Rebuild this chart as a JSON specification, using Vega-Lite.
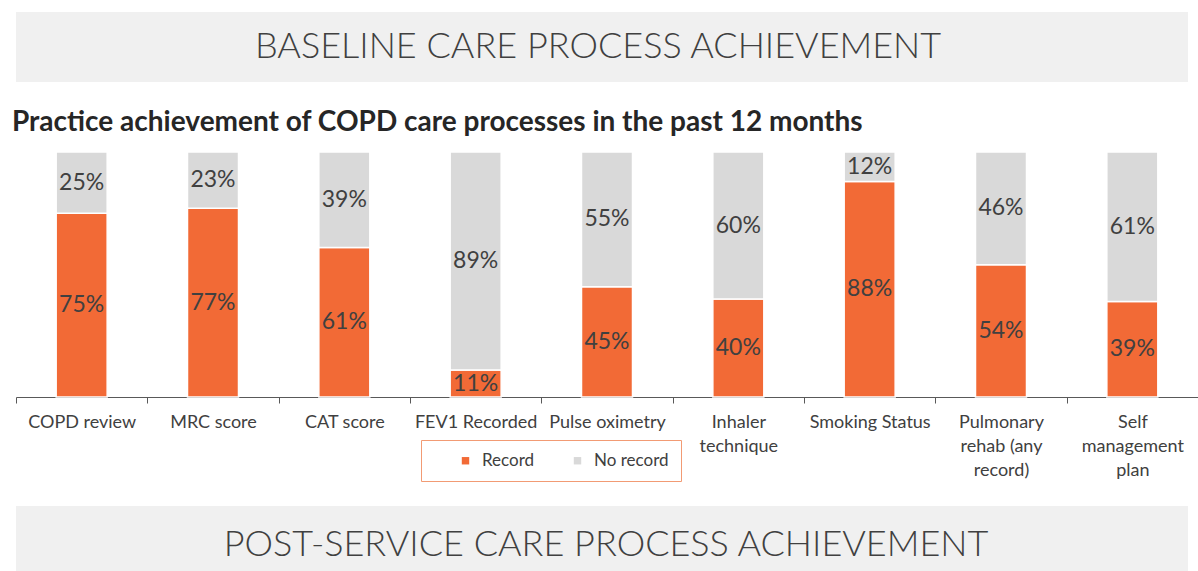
{
  "$schema": "https://vega.github.io/schema/vega-lite/v6.json",
  "padding": {"left": 8, "top": 12, "right": 0, "bottom": 0},
  "background": "white",
  "spacing": 27,
  "align": "none",
  "config": {"view": {"stroke": null}, "font": "Lato"},
  "vconcat": [
    {
      "width": 1172,
      "height": 70,
      "view": {"fill": "#F0F0F0", "stroke": null},
      "data": {"values": [{"heading": "BASELINE CARE PROCESS ACHIEVEMENT"}]},
      "mark": {"type": "text", "font": "Lato", "fontWeight": 300, "fontSize": 36, "color": "#404040", "baseline": "middle", "dx": -4},
      "encoding": {"text": {"field": "heading"}}
    },
    {
      "width": 1182,
      "height": 245,
      "title": {
        "text": "Practice achievement of COPD care processes in the past 12 months",
        "anchor": "start",
        "frame": "group",
        "font": "Lato",
        "fontSize": 28,
        "fontWeight": "bold",
        "color": "#262626",
        "baseline": "alphabetic",
        "offset": -8,
        "dx": -4
      },
      "data": {
        "values": [
          {"process": "COPD review", "status": "Record", "value": 0.75},
          {"process": "COPD review", "status": "No record", "value": 0.25},
          {"process": "MRC score", "status": "Record", "value": 0.77},
          {"process": "MRC score", "status": "No record", "value": 0.23},
          {"process": "CAT score", "status": "Record", "value": 0.61},
          {"process": "CAT score", "status": "No record", "value": 0.39},
          {"process": "FEV1 Recorded", "status": "Record", "value": 0.11},
          {"process": "FEV1 Recorded", "status": "No record", "value": 0.89},
          {"process": "Pulse oximetry", "status": "Record", "value": 0.45},
          {"process": "Pulse oximetry", "status": "No record", "value": 0.55},
          {"process": "Inhaler technique", "status": "Record", "value": 0.40},
          {"process": "Inhaler technique", "status": "No record", "value": 0.60},
          {"process": "Smoking Status", "status": "Record", "value": 0.88},
          {"process": "Smoking Status", "status": "No record", "value": 0.12},
          {"process": "Pulmonary rehab (any record)", "status": "Record", "value": 0.54},
          {"process": "Pulmonary rehab (any record)", "status": "No record", "value": 0.46},
          {"process": "Self management plan", "status": "Record", "value": 0.39},
          {"process": "Self management plan", "status": "No record", "value": 0.61}
        ]
      },
      "encoding": {
        "x": {
          "field": "process",
          "type": "nominal",
          "sort": null,
          "scale": {"paddingInner": 0, "paddingOuter": 0},
          "axis": {
            "title": null,
            "labelAngle": 0,
            "labelFont": "Lato",
            "labelFontSize": 18,
            "labelColor": "#404040",
            "labelPadding": 10,
            "labelBaseline": "top",
            "labelLineHeight": 24,
            "labelOverlap": false,
            "labelLimit": 0,
            "labelBound": false,
            "tickSize": 6,
            "tickBand": "extent",
            "tickColor": "#595959",
            "domainColor": "#595959",
            "labelExpr": "datum.value == 'Inhaler technique' ? ['Inhaler', 'technique'] : datum.value == 'Pulmonary rehab (any record)' ? ['Pulmonary', 'rehab (any', 'record)'] : datum.value == 'Self management plan' ? ['Self', 'management', 'plan'] : datum.value"
          }
        }
      },
      "layer": [
        {
          "mark": {"type": "bar", "size": 51, "stroke": "white", "strokeWidth": 1.5},
          "encoding": {
            "y": {
              "field": "value",
              "type": "quantitative",
              "stack": "zero",
              "scale": {"domain": [0, 1], "nice": false},
              "axis": {"title": null, "labels": false, "ticks": false, "domain": false, "grid": false, "minExtent": 8, "maxExtent": 8}
            },
            "color": {
              "field": "status",
              "type": "nominal",
              "scale": {"domain": ["Record", "No record"], "range": ["#F26A36", "#D9D9D9"]},
              "legend": {
                "orient": "none",
                "legendX": 405,
                "legendY": 428,
                "direction": "horizontal",
                "title": null,
                "fillColor": "white",
                "strokeColor": "#F29B74",
                "padding": 12,
                "symbolOffset": 24,
                "symbolType": "square",
                "symbolSize": 55,
                "symbolStrokeWidth": 0,
                "labelFont": "Lato",
                "labelFontSize": 17,
                "labelColor": "#404040",
                "labelOffset": 8,
                "columnPadding": 10
              }
            },
            "order": {"field": "status", "sort": "descending"}
          }
        },
        {
          "transform": [{"filter": "datum.status == 'Record'"}],
          "mark": {"type": "text", "font": "Lato", "fontSize": 23, "color": "#404040", "baseline": "middle"},
          "encoding": {
            "y": {"field": "value", "type": "quantitative", "scale": {"domain": [0, 2], "nice": false, "zero": true}, "axis": null},
            "text": {"field": "value", "type": "quantitative", "format": ".0%"}
          }
        },
        {
          "transform": [{"filter": "datum.status == 'No record'"}],
          "mark": {"type": "text", "font": "Lato", "fontSize": 23, "color": "#404040", "baseline": "middle"},
          "encoding": {
            "y": {"field": "value", "type": "quantitative", "scale": {"domain": [0, 2], "nice": false, "zero": true, "reverse": true}, "axis": null},
            "text": {"field": "value", "type": "quantitative", "format": ".0%"}
          }
        }
      ],
      "resolve": {"scale": {"y": "independent"}}
    },
    {
      "width": 1172,
      "height": 65,
      "view": {"fill": "#F0F0F0", "stroke": null},
      "data": {"values": [{"heading": "POST-SERVICE CARE PROCESS ACHIEVEMENT"}]},
      "mark": {"type": "text", "font": "Lato", "fontWeight": 300, "fontSize": 36, "color": "#404040", "baseline": "middle", "dy": 6, "dx": 4},
      "encoding": {
        "text": {"field": "heading"},
        "y": {"datum": 0, "type": "quantitative", "scale": {"domain": [-1, 1]}, "axis": {"title": null, "labels": false, "ticks": false, "domain": false, "grid": false, "minExtent": 8, "maxExtent": 8}}
      }
    }
  ]
}
